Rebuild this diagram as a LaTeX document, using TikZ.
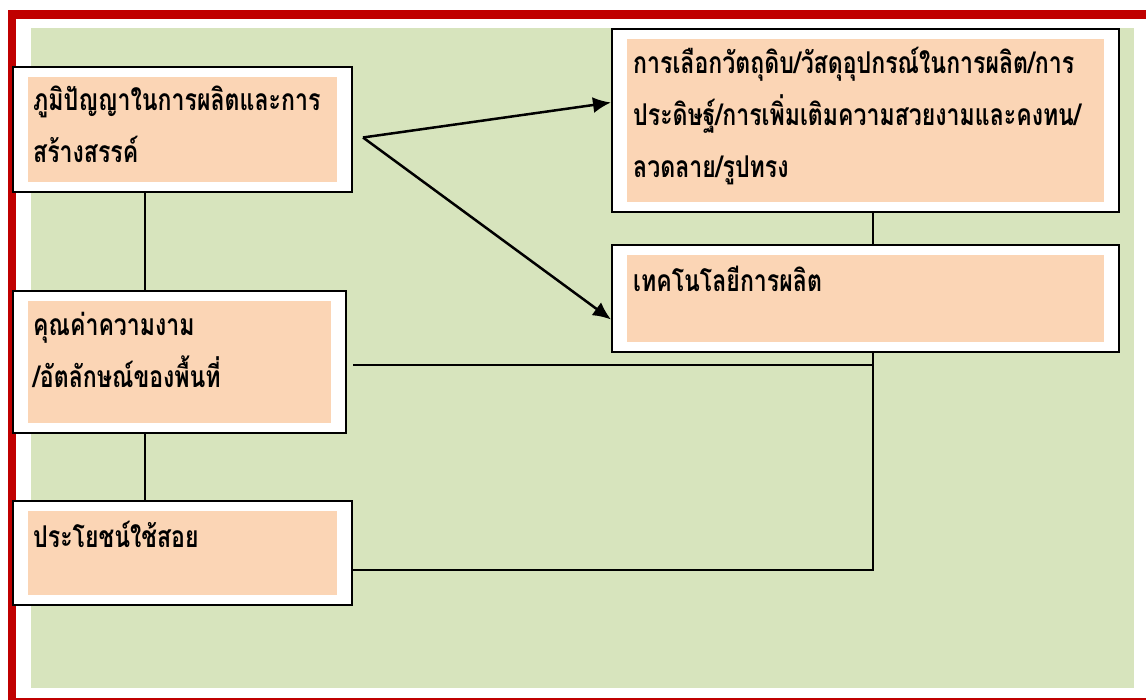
\documentclass[tikz,border=0pt]{standalone}
\usepackage{fontspec}
\newfontfamily\thaifont[Script=Thai,FakeStretch=0.77]{Loma}
\usetikzlibrary{calc,positioning,arrows.meta}

\definecolor{framered}{HTML}{C00000}
\definecolor{panelgreen}{HTML}{D7E4BD}
\definecolor{peach}{HTML}{FBD5B5}

\tikzset{
  outerbox/.style={rectangle,draw=black,line width=2pt,fill=white,inner sep=0pt,anchor=north west},
  boxtext/.style={anchor=base west,inner sep=0pt,align=left,font=\thaifont\bfseries\fontsize{30}{52}\selectfont},
  link/.style={draw=black,line width=1.8pt},
  flow/.style={draw=black,line width=2.5pt,-{Latex[length=18pt,width=16pt]}},
}

\begin{document}
\begin{tikzpicture}[x=1pt,y=-1pt]
  \useasboundingbox (0,0) rectangle (1146,700);
  \clip (0,0) rectangle (1146,700);

  % frame and panel
  \fill[panelgreen] (31,28) rectangle (1134,688);
  \draw[framered,line width=8.5pt] (12,14.5) rectangle (1170,702);

  % boxes
  \node (wisdom) [outerbox,minimum width=339pt,minimum height=125pt] at(12,66) {};
  \node (material) [outerbox,minimum width=507pt,minimum height=183pt] at(611,28) {};
  \node (tech) [outerbox,minimum width=507pt,minimum height=107pt] at(611,244) {};
  \node (value) [outerbox,minimum width=333pt,minimum height=142pt] at(12,290) {};
  \node (benefit) [outerbox,minimum width=339pt,minimum height=104pt] at(12,500) {};

  \foreach \b in {wisdom,material,tech,value,benefit}
  {
    \fill[peach] ($(\b.north west)+(16,11)$) rectangle ($(\b.south east)+(-16,-11)$);
  }

  % text, placed at the baseline of its last line
  \node (wisdom_txt) [boxtext] at($(wisdom.north west)+(21,97)$) {ภูมิปัญญาในการผลิตและการ\\สร้างสรรค์};
  \node (material_txt) [boxtext] at($(material.north west)+(22,150)$) {การเลือกวัตถุดิบ/วัสดุอุปกรณ์ในการผลิต/การ\\ประดิษฐ์/การเพิ่มเติมความสวยงามและคงทน/\\ลวดลาย/รูปทรง};
  \node (tech_txt) [boxtext] at($(tech.north west)+(22,48)$) {เทคโนโลยีการผลิต};
  \node (value_txt) [boxtext] at($(value.north west)+(21,98)$) {คุณค่าความงาม\\/อัตลักษณ์ของพื้นที่};
  \node (benefit_txt) [boxtext] at($(benefit.north west)+(21,47)$) {ประโยชน์ใช้สอย};

  % connectors
  \coordinate (lspine) at (145,0);
  \coordinate (rspine) at (873,0);
  \coordinate (fork) at ($(wisdom.east)+(10,8)$);
  \coordinate (vjoin) at ($(value.east)+(6,3)$);
  \coordinate (bjoin) at ($(benefit.east)+(0,17)$);

  \draw[link] (wisdom.south -| lspine) -- (value.north -| lspine);
  \draw[link] (value.south -| lspine) -- (benefit.north -| lspine);
  \draw[link] (material.south -| rspine) -- (tech.north -| rspine);
  \draw[link] (vjoin) -- (vjoin -| rspine) -- (tech.south -| rspine);
  \draw[link] (bjoin) -- (bjoin -| rspine) -- (vjoin -| rspine);

  \draw[flow] (fork) -- ($(material.west)+(0,-18)$);
  \draw[flow] (fork) -- ($(tech.west)+(0,21)$);
\end{tikzpicture}
\end{document}
